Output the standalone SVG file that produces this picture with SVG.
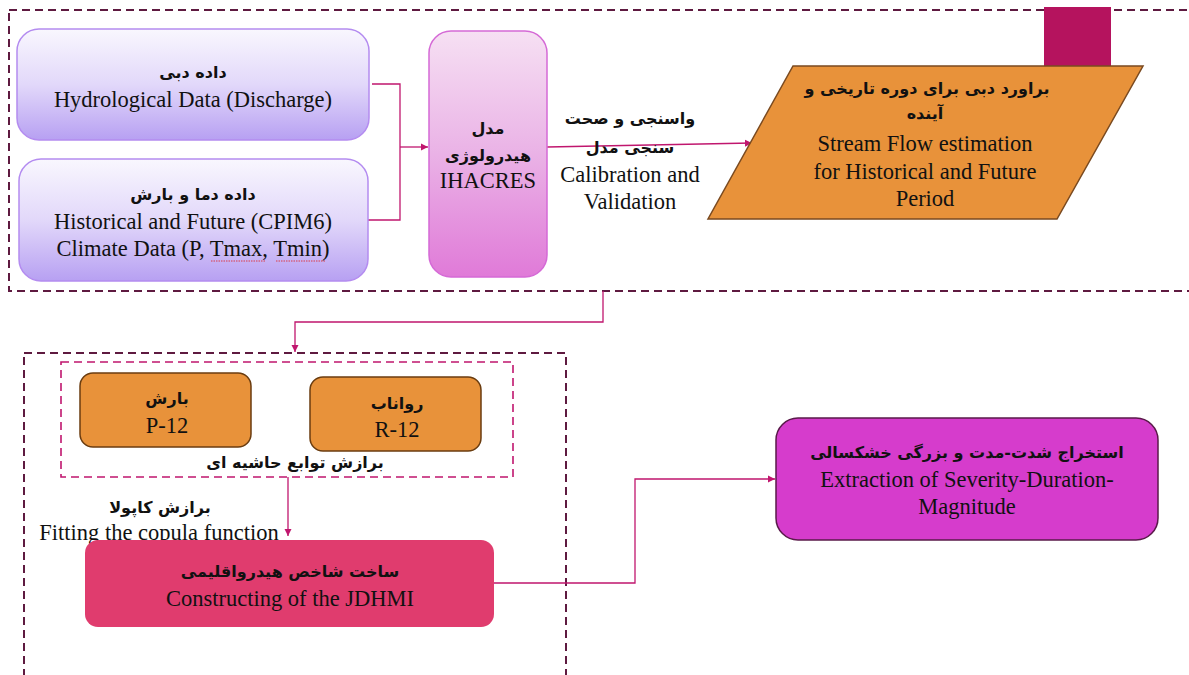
<svg xmlns="http://www.w3.org/2000/svg" width="1189" height="675" viewBox="0 0 1189 675">
<defs>
<linearGradient id="gPurple" x1="0" y1="0" x2="0" y2="1">
<stop offset="0" stop-color="#f9f7fe"/>
<stop offset="0.5" stop-color="#e2d8fa"/>
<stop offset="1" stop-color="#b7a0f2"/>
</linearGradient>
<linearGradient id="gPink" x1="0" y1="0" x2="0" y2="1">
<stop offset="0" stop-color="#f6e0f3"/>
<stop offset="0.5" stop-color="#eab2e6"/>
<stop offset="1" stop-color="#e07ad8"/>
</linearGradient>
<marker id="arr" markerWidth="8" markerHeight="8" refX="7" refY="4" orient="auto" markerUnits="userSpaceOnUse">
<path d="M0,0.5 L7,4 L0,7.5 Z" fill="#c0166e"/>
</marker>
<style>
.en{font-family:"Liberation Serif","Times New Roman",serif;font-size:22.5px;fill:#111;text-anchor:middle}
.fa{font-family:"DejaVu Sans","Noto Sans",sans-serif;font-size:16px;font-weight:bold;fill:#111;text-anchor:middle}
.frame{fill:none;stroke:#5e1a40;stroke-width:2;stroke-dasharray:8 5}
.frame2{fill:none;stroke:#c0166e;stroke-width:1.6;stroke-dasharray:8 5}
.conn{fill:none;stroke:#c0166e;stroke-width:1.3}
.orange{fill:#e8923a;stroke:#6b3d10;stroke-width:1.5}
.squig{fill:none;stroke:#e02020;stroke-width:0.8;stroke-dasharray:1.5 1}
</style>
</defs>
<rect width="1189" height="675" fill="#ffffff"/>

<g id="frames">
<rect class="frame" x="9" y="10" width="1200" height="281"/>
<rect class="frame" x="24" y="353" width="542" height="400"/>
<rect class="frame2" x="61" y="362" width="452" height="115"/>
</g>

<g id="accent">
<rect x="1044" y="7" width="67" height="59" fill="#b5135e"/>
</g>

<g id="connectors">
<polyline class="conn" points="372,84 400,84 400,220 368,220"/>
<line class="conn" x1="400" y1="147" x2="428" y2="147" marker-end="url(#arr)"/>
<line class="conn" x1="547" y1="147" x2="752" y2="143" marker-end="url(#arr)"/>
<polyline class="conn" points="603,291 603,322 295,322 295,352" marker-end="url(#arr)"/>
<line class="conn" x1="288" y1="477" x2="288" y2="536" marker-end="url(#arr)"/>
<polyline class="conn" points="494,583 635,583 635,479 775,479" marker-end="url(#arr)"/>
</g>

<g id="node-discharge">
<rect x="17" y="29" width="352" height="111" rx="22" fill="url(#gPurple)" stroke="#b48cf0" stroke-width="1.5"/>
<text class="fa" x="193" y="78">داده دبی</text>
<text class="en" x="193" y="107">Hydrological Data (Discharge)</text>
</g>

<g id="node-climate">
<rect x="19" y="159" width="349" height="122" rx="22" fill="url(#gPurple)" stroke="#b48cf0" stroke-width="1.5"/>
<text class="fa" x="193" y="200">داده دما و بارش</text>
<text class="en" x="193" y="229">Historical and Future (CPIM6)</text>
<text class="en" x="193" y="256">Climate Data (P, Tmax, Tmin)</text>
<path class="squig" d="M211,261 L265,261 M276,261 L326,261"/>
</g>

<g id="node-ihacres">
<rect x="429" y="31" width="118" height="246" rx="22" fill="url(#gPink)" stroke="#d56ad6" stroke-width="1.5"/>
<text class="fa" x="488" y="134">مدل</text>
<text class="fa" x="488" y="161">هیدرولوژی</text>
<text class="en" x="488" y="188">IHACRES</text>
</g>

<g id="label-calibration">
<text class="fa" x="630" y="124">واسنجی و صحت</text>
<text class="fa" x="630" y="153">سنجی مدل</text>
<text class="en" x="630" y="182">Calibration and</text>
<text class="en" x="630" y="209">Validation</text>
</g>

<g id="node-streamflow">
<polygon points="793,66 1143,66 1057,219 708,219" fill="#e8923a" stroke="#7a4a20" stroke-width="1.5"/>
<text class="fa" x="927" y="94">براورد دبی برای دوره تاریخی و</text>
<text class="fa" x="925" y="119">آینده</text>
<text class="en" x="925" y="151">Stream Flow estimation</text>
<text class="en" x="925" y="179">for Historical and Future</text>
<text class="en" x="925" y="206">Period</text>
</g>

<g id="node-p12">
<rect class="orange" x="80" y="373" width="171" height="74" rx="13"/>
<text class="fa" x="167" y="404">بارش</text>
<text class="en" x="167" y="433">P-12</text>
</g>

<g id="node-r12">
<rect class="orange" x="310" y="377" width="171" height="74" rx="13"/>
<text class="fa" x="397" y="409">رواناب</text>
<text class="en" x="397" y="437">R-12</text>
</g>

<g id="label-marginal">
<text class="fa" x="295" y="468">برازش توابع حاشیه ای</text>
</g>

<g id="label-copula">
<text class="fa" x="160" y="513">برازش کاپولا</text>
<text class="en" x="159" y="540">Fitting the copula function</text>
</g>

<g id="node-jdhmi">
<rect x="85" y="540" width="409" height="87" rx="13" fill="#e03c6e"/>
<text class="fa" x="290" y="577">ساخت شاخص هیدرواقلیمی</text>
<text class="en" x="290" y="606">Constructing of the JDHMI</text>
</g>

<g id="node-extraction">
<rect x="776" y="418" width="382" height="122" rx="22" fill="#d63ccc" stroke="#5a1a4a" stroke-width="1.5"/>
<text class="fa" x="967" y="458">استخراج شدت-مدت و بزرگی خشکسالی</text>
<text class="en" x="967" y="487">Extraction of Severity-Duration-</text>
<text class="en" x="967" y="514">Magnitude</text>
</g>
</svg>
